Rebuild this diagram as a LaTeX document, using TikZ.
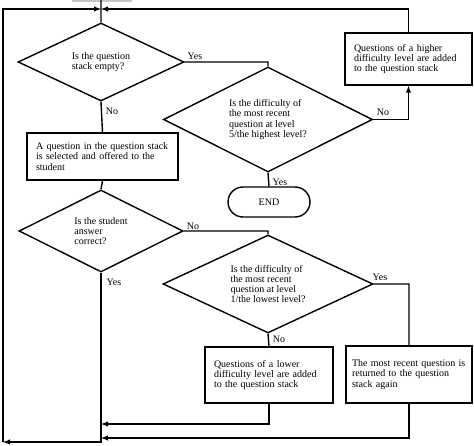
\documentclass[tikz,border=0pt]{standalone}
\usepackage{fontspec}
\setmainfont{Liberation Serif}
\usetikzlibrary{shapes.geometric}

\tikzstyle{decision}=[diamond,draw,inner sep=0pt,aspect=2,align=left,font=\fontsize{10}{10.2}\selectfont]
\tikzstyle{process}=[rectangle,draw,inner xsep=9pt,inner ysep=0pt,align=left,font=\fontsize{10}{10.2}\selectfont]
\tikzstyle{terminal}=[rectangle,draw,rounded corners=15pt,minimum width=82pt,minimum height=30pt,font=\fontsize{10}{10.2}\selectfont]
\tikzstyle{answer}=[inner sep=0pt,font=\fontsize{10}{10.2}\selectfont]

\begin{document}
\begin{tikzpicture}[x=1pt,y=-1pt,>=latex,line width=1.4pt]
  \useasboundingbox (0,0) rectangle (474,446);
  \fill[gray!45] (72,0) rectangle (132,2.5);
  \coordinate (start) at (101,0);
  \coordinate (merge) at (101,9);
  \coordinate (corner) at (3,442);
  \coordinate (inlow) at (101,424);
  \coordinate (inagain) at (101,438);

  \node (empty) [decision,minimum width=166pt,minimum height=78pt] at (101,62)
    {Is the question\\stack empty?};
  \node (select) [process,text width=133pt,minimum height=47pt] at (102.5,156.5)
    {A question in the question stack\\is selected and offered to the\\student};
  \node (highest) [decision,minimum width=209pt,minimum height=105pt] at (268,119.5)
    {Is the difficulty of\\the most recent\\question at level\\5/the highest level?};
  \node (higher) [process,text width=109pt,minimum height=52pt] at (408.5,59)
    {Questions of a higher\\difficulty level are added\\to the question stack};
  \node (end) [terminal] at (269,202) {END};
  \node (correct) [decision,minimum width=164pt,minimum height=82pt] at (101,231)
    {Is the student\\answer\\correct?};
  \node (lowest) [decision,minimum width=210pt,minimum height=98pt] at (268,284)
    {Is the difficulty of\\the most recent\\question at level\\1/the lowest level?};
  \node (lower) [process,text width=110pt,minimum height=56pt] at (269,375)
    {Questions of a lower\\difficulty level are added\\to the question stack};
  \node (again) [process,inner xsep=6pt,text width=114pt,minimum height=57pt] at (409,374.5)
    {The most recent question is\\returned to the question\\stack again};

  \node (yesempty) [answer] at (195,56) {Yes};
  \node (noempty) [answer] at (112,111) {No};
  \node (nohighest) [answer] at (383,112) {No};
  \node (yeshighest) [answer] at (280,182) {Yes};
  \node (nocorrect) [answer] at (193,226) {No};
  \node (yescorrect) [answer] at (114,282) {Yes};
  \node (yeslowest) [answer] at (380,277) {Yes};
  \node (nolowest) [answer] at (279,339) {No};

  \path[draw]
  (start) -- (empty.north)
  (empty.south) -- (select.north)
  (select.south) -- (correct.north)
  (highest.south) -- (end.north)
  (lowest.south) -- (lower.north)
  (empty.east) -| (highest.north)
  (correct.east) -| (lowest.north)
  (lowest.east) -| (again.north);
  \draw[->] (highest.east) -| (higher.south);
  \draw[->] (higher.north) |- (merge);
  \draw[->] (lower.south) |- (inlow);
  \draw[->] (again.south) |- (inagain);
  \draw[->] (correct.south) |- (corner);
  \draw[->] (corner) |- (merge);
\end{tikzpicture}
\end{document}
